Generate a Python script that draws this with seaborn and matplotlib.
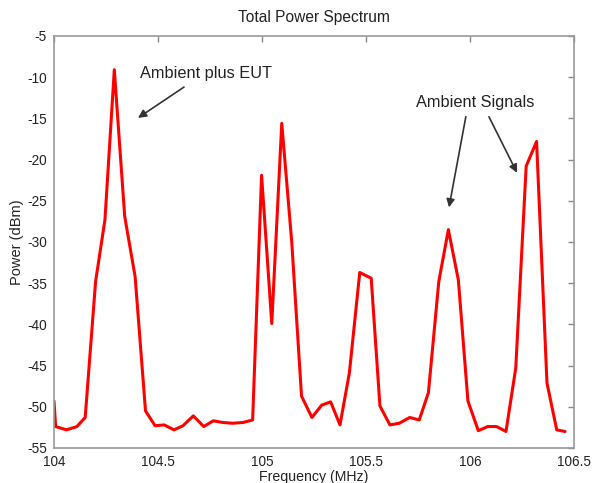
import matplotlib
matplotlib.use("Agg")
import matplotlib.pyplot as plt
import seaborn as sns
import pandas as pd

freq_mhz = [104.000, 104.008, 104.060, 104.110, 104.150, 104.200, 104.245, 104.290,
            104.340, 104.390, 104.440, 104.486, 104.530, 104.577, 104.620, 104.670,
            104.720, 104.766, 104.810, 104.860, 104.910, 104.955, 104.998, 105.047,
            105.095, 105.143, 105.190, 105.240, 105.287, 105.330, 105.375, 105.420,
            105.470, 105.525, 105.567, 105.615, 105.660, 105.710, 105.756, 105.800,
            105.850, 105.896, 105.944, 105.990, 106.040, 106.085, 106.128, 106.173,
            106.220, 106.270, 106.320, 106.370, 106.417, 106.457]
power_dbm = [-49.3, -52.4, -52.8, -52.4, -51.3, -34.8, -27.3, -9.1,
             -26.9, -34.2, -50.5, -52.3, -52.2, -52.8, -52.3, -51.1,
             -52.4, -51.7, -51.9, -52.0, -51.9, -51.6, -21.9, -39.9,
             -15.6, -30.0, -48.7, -51.3, -49.8, -49.4, -52.2, -45.9,
             -33.7, -34.4, -49.9, -52.2, -52.0, -51.3, -51.6, -48.3,
             -34.8, -28.5, -34.6, -49.3, -52.9, -52.4, -52.4, -53.0,
             -45.3, -20.8, -17.8, -47.1, -52.8, -53.0]

x_ticks = [104, 104.5, 105, 105.5, 106, 106.5]
x_tick_labels = ["104", "104.5", "105", "105.5", "106", "106.5"]
y_ticks = [-55, -50, -45, -40, -35, -30, -25, -20, -15, -10, -5]

title = "Total Power Spectrum"
x_label = "Frequency (MHz)"
y_label = "Power (dBm)"

sns.set_theme(style="white")
plt.rcParams["font.family"] = ["Liberation Sans", "DejaVu Sans"]
plt.rcParams["axes.unicode_minus"] = False

df = pd.DataFrame({"freq": freq_mhz, "power": power_dbm})

fig = plt.figure(figsize=(5.92, 4.83), dpi=100)
ax = fig.add_axes([0.0912, 0.0725, 0.8784, 0.853])

sns.lineplot(data=df, x="freq", y="power", ax=ax, color="#ff0000",
             linewidth=2.2, estimator=None, sort=False)

ax.set_xlim(104, 106.5)
ax.set_ylim(-55, -5)
ax.set_xticks(x_ticks)
ax.set_xticklabels(x_tick_labels)
ax.set_yticks(y_ticks)
ax.tick_params(direction="in", length=4, width=1, color="#888888",
               top=True, right=True, labelsize=9.8, labelcolor="#222222", pad=5)
for s in ax.spines.values():
    s.set_color("#999999")
    s.set_linewidth(1.2)

ax.set_title(title, fontsize=11.2, color="#222222", pad=10)
ax.set_xlabel(x_label, fontsize=10.2, color="#222222", labelpad=1)
ax.set_ylabel(y_label, fontsize=10.5, color="#222222", labelpad=2)

arrow = dict(arrowstyle="-|>", color="#333333", lw=1.2, mutation_scale=12,
             shrinkA=0, shrinkB=0)
ax.text(104.73, -9.6, "Ambient plus EUT", fontsize=11.8, color="#222222",
        ha="center", va="center")
ax.annotate("", xy=(104.404, -14.94), xytext=(104.625, -11.2), arrowprops=arrow)

ax.text(106.024, -13.1, "Ambient Signals", fontsize=11.8, color="#222222",
        ha="center", va="center")
ax.annotate("", xy=(105.899, -25.8), xytext=(105.98, -14.8), arrowprops=arrow)
ax.annotate("", xy=(106.226, -21.6), xytext=(106.091, -14.8), arrowprops=arrow)

fig.savefig("out.png", dpi=100)
